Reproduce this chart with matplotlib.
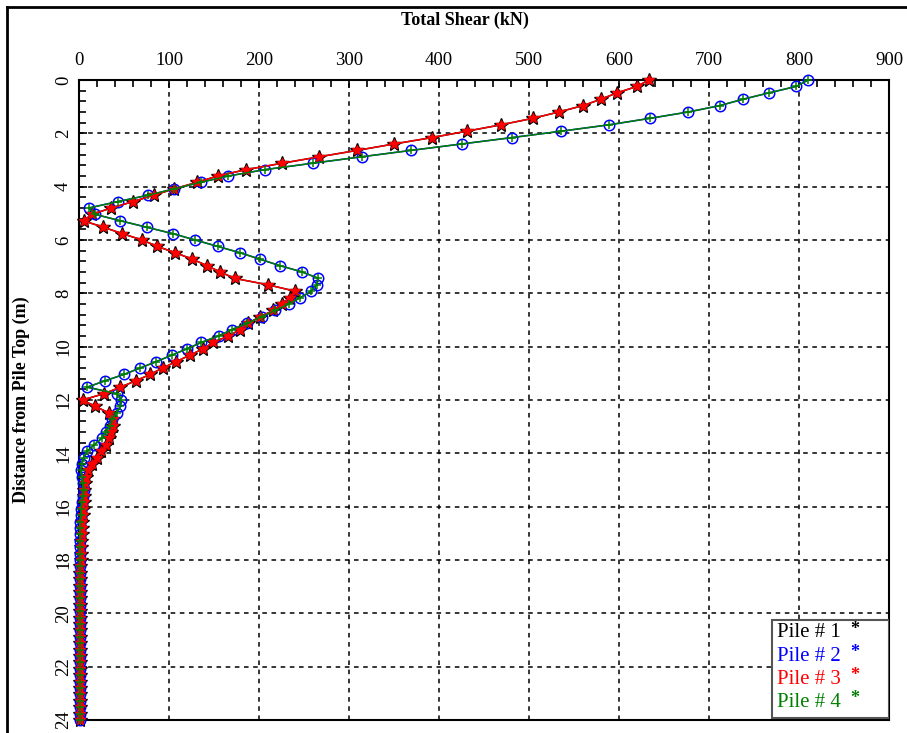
import matplotlib
matplotlib.use("Agg")
import matplotlib.pyplot as plt
from matplotlib.lines import Line2D
from matplotlib.patches import Rectangle
from matplotlib.ticker import MultipleLocator

plt.rcParams["font.family"] = ["Liberation Serif", "DejaVu Serif"]

# depth stations along the pile (m)
depth = [
    0.00, 0.24, 0.48, 0.72, 0.96, 1.20, 1.44, 1.68, 1.92, 2.16,
    2.40, 2.64, 2.88, 3.12, 3.36, 3.60, 3.84, 4.08, 4.32, 4.56,
    4.80, 5.04, 5.28, 5.52, 5.76, 6.00, 6.24, 6.48, 6.72, 6.96,
    7.20, 7.44, 7.68, 7.92, 8.16, 8.40, 8.64, 8.88, 9.12, 9.36,
    9.60, 9.84, 10.08, 10.32, 10.56, 10.80, 11.04, 11.28, 11.52, 11.76,
    12.00, 12.24, 12.48, 12.72, 12.96, 13.20, 13.44, 13.68, 13.92, 14.16,
    14.40, 14.64, 14.88, 15.12, 15.36, 15.60, 15.84, 16.08, 16.32, 16.56,
    16.80, 17.04, 17.28, 17.52, 17.76, 18.00, 18.24, 18.48, 18.72, 18.96,
    19.20, 19.44, 19.68, 19.92, 20.16, 20.40, 20.64, 20.88, 21.12, 21.36,
    21.60, 21.84, 22.08, 22.32, 22.56, 22.80, 23.04, 23.28, 23.52, 23.76,
    24.00,
]

# total shear (kN); piles 1 & 3 and piles 2 & 4 give identical results
shear_p3 = [
    633, 620, 598, 580, 560, 533, 504, 469, 431, 392,
    350, 309, 267, 226, 186, 154, 131, 106, 83, 60,
    36, 14, 5, 27, 48, 70, 87, 107, 126, 142,
    157, 173, 210, 240, 234, 225, 216, 201, 188, 179,
    166, 149, 138, 123, 108, 93, 79, 63, 46, 28,
    4, 18, 33, 38, 38, 36, 33, 30, 24, 20,
    14, 10, 8, 7, 6, 5, 5, 4, 4, 3,
    3, 3, 2, 2, 2, 2, 1, 1, 1, 1,
    1, 1, 1, 1, 1, 1, 1, 1, 1, 1,
    1, 1, 1, 1, 1, 1, 1, 1, 1, 1,
    1,
]
shear_p4 = [
    810, 797, 767, 738, 712, 677, 634, 589, 536, 481,
    425, 369, 314, 260, 207, 166, 135, 106, 77, 43,
    11, 18, 46, 75, 104, 129, 154, 179, 201, 223,
    248, 266, 264, 258, 246, 233, 218, 203, 187, 170,
    155, 136, 120, 103, 86, 68, 50, 29, 9, 42,
    47, 46, 42, 37, 34, 30, 25, 17, 9, 5,
    3, 2, 3, 4, 5, 4, 3, 2, 2, 1,
    1, 1, 1, 1, 1, 1, 1, 1, 1, 1,
    1, 1, 1, 1, 1, 1, 1, 1, 1, 1,
    1, 1, 1, 1, 1, 1, 1, 1, 1, 1,
    1,
]
shear_p1 = shear_p3
shear_p2 = shear_p4

pile_labels = ["Pile # 1", "Pile # 2", "Pile # 3", "Pile # 4"]
pile_colors = ["black", "blue", "red", "green"]

fig = plt.figure(figsize=(9.07, 7.33), dpi=100)
ax = fig.add_axes([0.0871, 0.0177, 0.8932, 0.8732])

# pile 1 / 3: star markers, pile 2 / 4: circles with crosses
ax.plot(shear_p1, depth, color="black", lw=1.1, marker="*", ms=10,
        mfc="black", mec="black", clip_on=False, zorder=3)
ax.plot(shear_p2, depth, color="blue", lw=1.1, marker="o", ms=7.5,
        mfc="none", mec="blue", mew=1.1, clip_on=False, zorder=3)
ax.plot(shear_p3, depth, color="red", lw=1.1, marker="*", ms=7.5,
        mfc="red", mec="red", clip_on=False, zorder=4)
ax.plot(shear_p4, depth, color="green", lw=1.1, marker="+", ms=6,
        mew=1.1, clip_on=False, zorder=4)

ax.set_xlim(0, 900)
ax.set_ylim(24, 0)
ax.xaxis.set_major_locator(MultipleLocator(100))
ax.xaxis.set_minor_locator(MultipleLocator(20))
ax.yaxis.set_major_locator(MultipleLocator(2))
ax.yaxis.set_minor_locator(MultipleLocator(0.4))
ax.xaxis.tick_top()
ax.tick_params(axis="both", which="both", direction="in", top=True,
               bottom=False, left=True, right=False, width=1.2,
               labelsize=13.5, colors="black")
ax.tick_params(axis="x", which="major", length=6, pad=8)
ax.tick_params(axis="y", which="major", length=6, pad=5)
ax.tick_params(axis="both", which="minor", length=5)
for lab in ax.get_yticklabels():
    lab.set_rotation(90)
    lab.set_va("center")

ax.grid(True, which="major", color="black", ls=(0, (3, 3)), lw=1.1)
for sp in ax.spines.values():
    sp.set_linewidth(1.5)

ax.set_ylabel("Distance from Pile Top (m)", fontsize=13, fontweight="bold",
              labelpad=18)
fig.text(465 / 907, 1 - 20 / 733, "Total Shear (kN)", fontsize=13,
         fontweight="bold", ha="center", va="center")

# legend box with coloured entries
box = Rectangle((0.855, 0.003), 0.145, 0.153, transform=ax.transAxes,
                facecolor="white", edgecolor="#555555", lw=1.5, zorder=10)
ax.add_patch(box)
for i, (lbl, col) in enumerate(zip(pile_labels, pile_colors)):
    y = 0.136 - i * 0.036
    ax.text(0.862, y, lbl, color=col, fontsize=15, transform=ax.transAxes,
            va="center", ha="left", zorder=11)
    ax.text(0.952, y + 0.005, "*", color=col, fontsize=13, fontweight="bold",
            transform=ax.transAxes, va="center", ha="left", zorder=11)

# outer frame
fig.add_artist(Line2D([7 / 907, 7 / 907], [0, 1 - 7 / 733], color="black",
                      lw=2, transform=fig.transFigure))
fig.add_artist(Line2D([7 / 907, 1], [1 - 7 / 733, 1 - 7 / 733], color="black",
                      lw=2, transform=fig.transFigure))

fig.savefig("out.png", dpi=100)
